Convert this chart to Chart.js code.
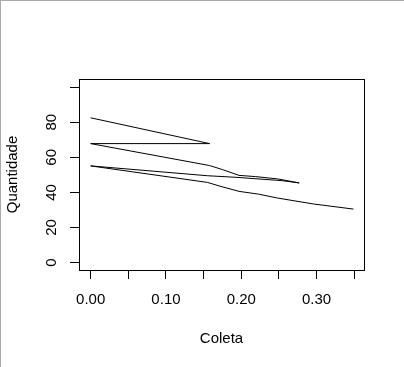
<!DOCTYPE html>
<html>
<head>
<meta charset="utf-8">
<script src="https://cdn.jsdelivr.net/npm/chart.js@4.4.1/dist/chart.umd.min.js"></script>
<style>
  html, body { margin: 0; padding: 0; background: #fff; overflow: hidden; }
  canvas { position: absolute; left: 0; top: 0; }
</style>
</head>
<body>
<canvas id="plot" width="404" height="367"></canvas>
<script>
// path of the R line plot, in the order the points were drawn
var coleta = [0, 0.158, 0, 0.158, 0.175, 0.197, 0.219, 0.248, 0.277, 0.254, 0.193, 0.155, 0, 0.155, 0.173, 0.197, 0.223, 0.248, 0.296, 0.349];
var quantidade = [82.5, 67.8, 67.8, 55.3, 53.0, 49.7, 49.0, 47.7, 45.4, 46.7, 48.6, 49.5, 55.1, 45.7, 43.4, 40.6, 39.0, 36.8, 33.4, 30.5];
var xTicks = [0, 0.05, 0.10, 0.15, 0.20, 0.25, 0.30, 0.35];
var xLabels = ['0.00', '', '0.10', '', '0.20', '', '0.30', ''];
var yTicks = [0, 20, 40, 60, 80, 100];
var yLabels = ['0', '20', '40', '60', '80', ''];

var fontFamily = '"Liberation Sans", Arial, sans-serif';
var points = coleta.map(function (x, i) { return { x: x, y: quantidade[i] }; });

var framePlugin = {
    id: 'frame',
    beforeDraw: function (chart) {
        var c = chart.ctx;
        c.save();
        c.fillStyle = '#fff';
        c.fillRect(0, 0, chart.width, chart.height);
        c.fillStyle = '#a9a9a9';
        c.fillRect(0, 0, chart.width, 1);
        c.fillRect(0, 0, 1, chart.height);
        c.restore();
    },
    afterDraw: function (chart) {
        var c = chart.ctx, a = chart.chartArea, ys = chart.scales.y;
        c.save();
        c.strokeStyle = '#000';
        c.lineWidth = 1;
        c.strokeRect(a.left + 0.5, a.top + 0.5, a.right - a.left, a.bottom - a.top);
        // y labels parallel to the axis, like R's default
        c.fillStyle = '#000';
        c.font = '15px ' + fontFamily;
        c.textAlign = 'center';
        c.textBaseline = 'middle';
        yTicks.forEach(function (v, i) {
            if (!yLabels[i]) return;
            c.save();
            c.translate(52, ys.getPixelForValue(v));
            c.rotate(-Math.PI / 2);
            c.fillText(yLabels[i], 0, 0);
            c.restore();
        });
        c.restore();
    }
};

var ctx = document.getElementById('plot').getContext('2d');
var chart = new Chart(ctx, {
    type: 'scatter',
    data: {
        datasets: [{
            data: points,
            showLine: true,
            borderColor: '#000',
            borderWidth: 1,
            pointRadius: 0,
            tension: 0,
            fill: false
        }]
    },
    options: {
        responsive: false,
        animation: false,
        layout: { padding: { top: 79, right: 40, left: 0, bottom: 0 } },
        plugins: { legend: { display: false }, tooltip: { enabled: false } },
        scales: {
            x: {
                type: 'linear',
                min: -0.0155,
                max: 0.363,
                afterBuildTicks: function (s) { s.ticks = xTicks.map(function (v) { return { value: v }; }); },
                afterFit: function (s) { s.height = 97; },
                grid: { drawOnChartArea: false, drawTicks: true, tickLength: 9, color: '#000' },
                border: { display: false },
                ticks: {
                    color: '#000',
                    font: { family: fontFamily, size: 15 },
                    padding: 12,
                    maxRotation: 0,
                    autoSkip: false,
                    callback: function (v, i) { return xLabels[i]; }
                },
                title: {
                    display: true,
                    text: 'Coleta',
                    color: '#000',
                    font: { family: fontFamily, size: 15 },
                    padding: { top: 0, bottom: 19 }
                }
            },
            y: {
                type: 'linear',
                min: -4.2,
                max: 104.6,
                afterBuildTicks: function (s) { s.ticks = yTicks.map(function (v) { return { value: v }; }); },
                afterFit: function (s) { s.width = 79; },
                grid: { drawOnChartArea: false, drawTicks: true, tickLength: 9, color: '#000' },
                border: { display: false },
                ticks: { display: false },
                title: {
                    display: true,
                    text: 'Quantidade',
                    color: '#000',
                    font: { family: fontFamily, size: 15 },
                    padding: { top: 4, bottom: 0 }
                }
            }
        }
    },
    plugins: [framePlugin]
});
</script>
</body>
</html>
